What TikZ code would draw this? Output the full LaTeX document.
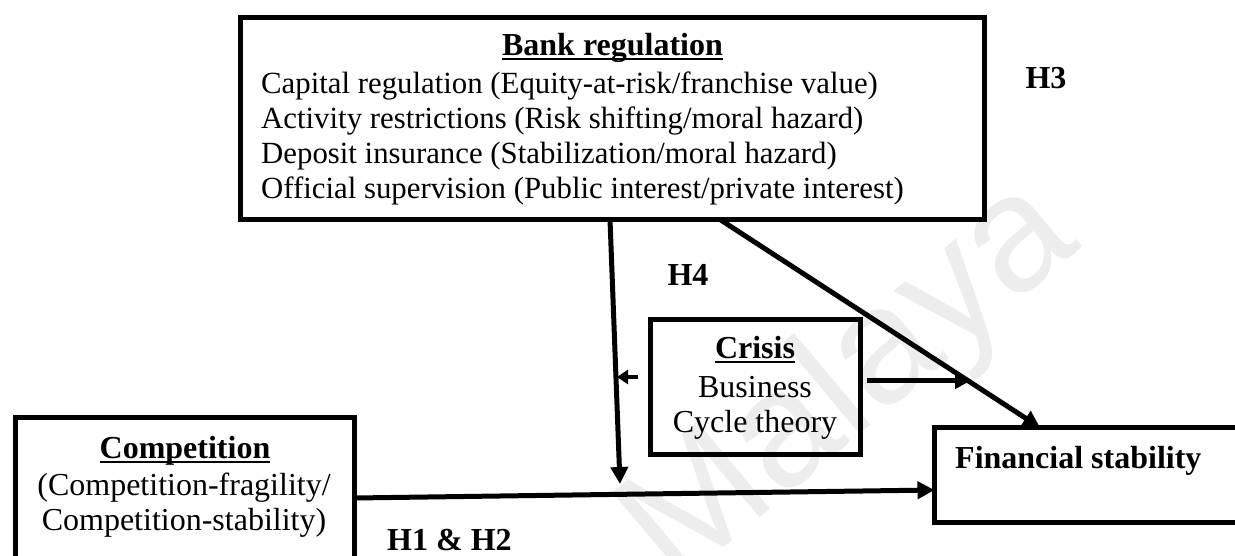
\documentclass[tikz,border=0pt]{standalone}
\usepackage{fontspec}
\setmainfont{Liberation Serif}
\newfontfamily\wmfont{Liberation Sans}
\usetikzlibrary{arrows.meta}
\newcommand\myul[1]{\setbox0\hbox{#1}\rlap{\rule[-5pt]{\wd0}{2.5pt}}\box0}
\begin{document}
\begin{tikzpicture}[x=1pt,y=-1pt,
 box/.style={draw,line width=5pt,inner sep=0pt,outer sep=0pt},
 txt/.style={inner sep=0pt,anchor=base west,font=\fontsize{32}{35}\selectfont},
 btxt/.style={inner sep=0pt,anchor=base west,font=\fontsize{30.8}{35}\selectfont},
 ctxt/.style={inner sep=0pt,anchor=base,font=\fontsize{32}{35}\selectfont},
 hlab/.style={inner sep=0pt,anchor=base,font=\fontsize{32}{35}\selectfont\bfseries},
 arr/.style={line width=5pt,-{Triangle[length=17pt,width=17pt]}},
 smallarr/.style={line width=4.5pt,-{Triangle[length=11pt,width=14pt]}},
]
\useasboundingbox (0,0) rectangle (1235,555);
% watermark
\node[rotate=40,text=black!7,inner sep=0pt,font=\wmfont\fontsize{165}{165}\selectfont] (wm) at (852,385) {Malaya};
% boxes
\node[box,minimum width=744pt,minimum height=202pt] (bank) at (612.5,118.5) {};
\node[box,minimum width=210pt,minimum height=135pt] (crisis) at (755.5,387) {};
\node[box,minimum width=339pt,minimum height=182.5pt] (comp) at (185,508.75) {};
\node[box,minimum width=325.5pt,minimum height=95pt] (fin) at (1097.25,475) {};
% texts
\node[hlab] (bt) at (612.5,55) {\myul{Bank regulation}};
\node[btxt] (b1) at (261,93) {Capital regulation (Equity-at-risk/franchise value)};
\node[btxt] (b2) at (261,128) {Activity restrictions (Risk shifting/moral hazard)};
\node[btxt] (b3) at (261,163) {Deposit insurance (Stabilization/moral hazard)};
\node[btxt] (b4) at (261,198) {Official supervision (Public interest/private interest)};
\node[hlab] (ct) at (755,358) {\myul{Crisis}};
\node[ctxt] (c1) at (755,397) {Business};
\node[ctxt] (c2) at (755,432) {Cycle theory};
\node[hlab] (pt) at (185,458) {\myul{Competition}};
\node[ctxt] (p1) at (184,495) {(Competition-fragility/};
\node[ctxt] (p2) at (184,530) {Competition-stability)};
\node[txt,font=\fontsize{32}{35}\selectfont\bfseries] (ft) at (955,468) {Financial stability};
\node[hlab] (h3) at (1046,88) {H3};
\node[hlab] (h4) at (688,285) {H4};
\node[txt,font=\fontsize{32}{35}\selectfont\bfseries] (h12) at (387,550) {H1 \& H2};
% free ends
\coordinate (vtip) at (620,484);
\coordinate (ltip) at (617,377);
\coordinate (rtip) at (972,380);
% connectors
\draw[arr] ([xshift=-2.5pt]bank.south) -- (vtip);
\draw[arr] ([xshift=107.5pt]bank.south) -- ([xshift=-57.25pt]fin.north);
\draw[arr] ([yshift=10.75pt]comp.east) -- ([yshift=-15pt]fin.west);
\draw[smallarr] ([shift={(-12.5pt,10pt)}]crisis.west) -- (ltip);
\draw[arr] ([shift={(6.5pt,7pt)}]crisis.east) -- (rtip);
\end{tikzpicture}
\end{document}
